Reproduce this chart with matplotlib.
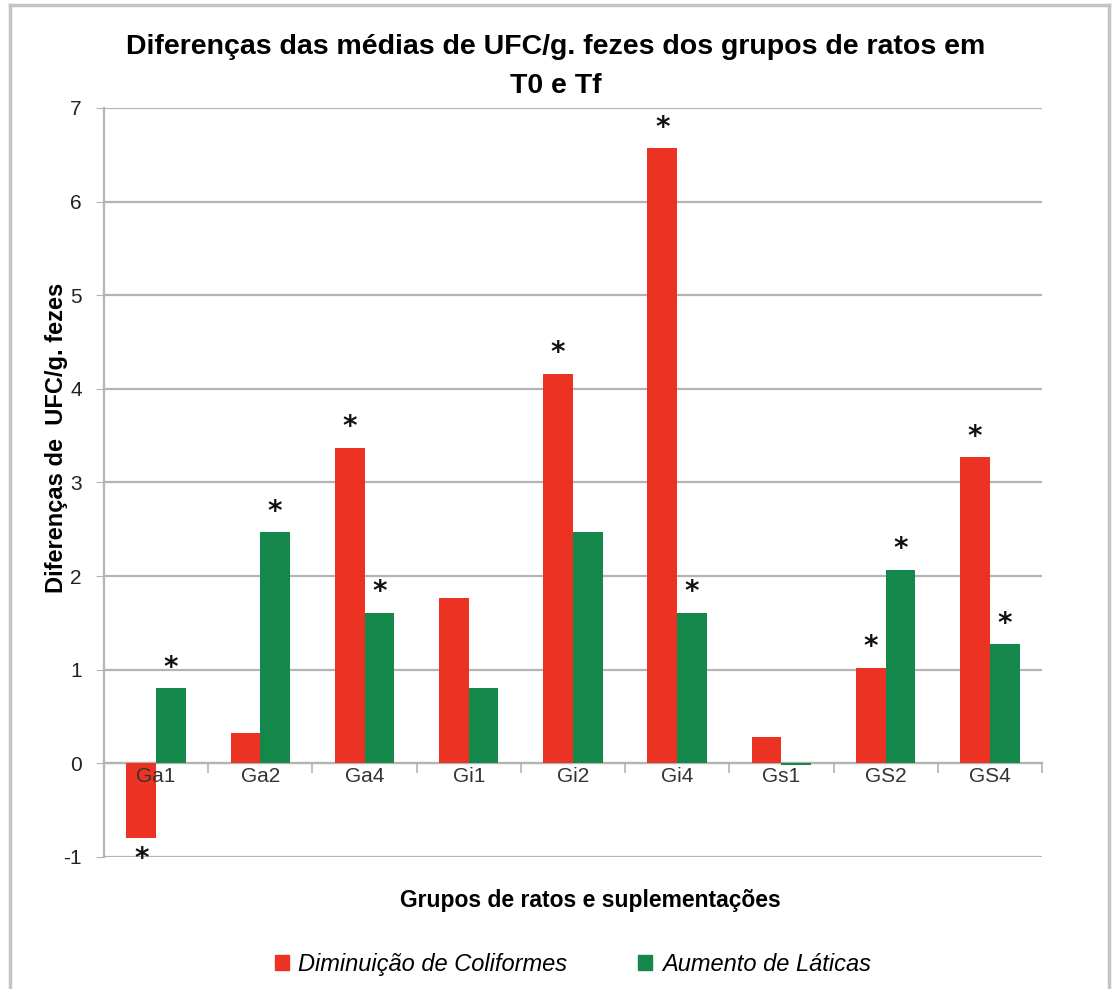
import numpy as np
import matplotlib.pyplot as plt
from matplotlib.lines import Line2D
from matplotlib.patches import Patch

# data
groups = ["Ga1", "Ga2", "Ga4", "Gi1", "Gi2", "Gi4", "Gs1", "GS2", "GS4"]
coliformes = [-0.80, 0.32, 3.37, 1.77, 4.16, 6.57, 0.28, 1.02, 3.27]
laticas = [0.80, 2.47, 1.61, 0.80, 2.47, 1.61, -0.02, 2.07, 1.27]
sig_coli = [True, False, True, False, True, True, False, True, True]
sig_lat = [True, True, True, False, False, True, False, True, True]

red = "#ec3323"
green = "#14884a"
grid_col = "#b4b4b4"
plt.rcParams['font.family'] = ['Liberation Sans', 'DejaVu Sans']
plt.rcParams['axes.unicode_minus'] = False

fig = plt.figure(figsize=(11.12, 9.89), dpi=100)
ax = fig.add_axes([0.0935, 0.1335, 0.8435, 0.7573])

x = np.arange(len(groups))
w = 0.285
ax.bar(x - w / 2, coliformes, w, color=red, zorder=3)
ax.bar(x + w / 2, laticas, w, color=green, zorder=3)

# significance stars
for xi, v, s in zip(x - w / 2, coliformes, sig_coli):
    if s:
        off = 0.07 if v >= 0 else -0.07
        ax.text(xi, v + off, "*", ha="center", va="bottom" if v >= 0 else "top",
                fontsize=20, fontweight="bold", color="#111111",
                fontfamily="DejaVu Sans")
for xi, v, s in zip(x + w / 2, laticas, sig_lat):
    if s:
        ax.text(xi, v + 0.07, "*", ha="center", va="bottom",
                fontsize=20, fontweight="bold", color="#111111",
                fontfamily="DejaVu Sans")

# group labels drawn over the bars, just under the zero line
for xi, g in zip(x, groups):
    ax.text(xi, -0.04, g, ha="center", va="top", fontsize=15,
            color="#333333", zorder=5)

ax.set_ylim(-1, 7)
ax.set_xlim(-0.5, len(groups) - 0.5)
ax.set_yticks(range(-1, 8))
ax.yaxis.grid(True, color=grid_col, lw=1.6, zorder=0)
ax.tick_params(axis="y", length=6, color=grid_col, labelsize=15,
               labelcolor="#222222", pad=10)

# x axis sits at zero with ticks between groups
ax.spines["bottom"].set_position(("data", 0))
ax.spines["bottom"].set_color(grid_col)
ax.spines["bottom"].set_linewidth(1.6)
ax.spines["left"].set_color(grid_col)
ax.spines["left"].set_linewidth(1.6)
ax.spines["top"].set_visible(False)
ax.spines["right"].set_visible(False)
ax.set_xticks(np.arange(-0.5, len(groups)), labels=[])
ax.tick_params(axis="x", which="major", length=7, color=grid_col, width=1.2)

fig.text(0.5, 0.952, "Diferenças das médias de UFC/g. fezes dos grupos de ratos em",
         ha="center", va="center", fontsize=20.5, fontweight="bold")
fig.text(0.5, 0.913, "T0 e Tf", ha="center", va="center", fontsize=20.5,
         fontweight="bold")
fig.text(0.051, 0.557, "Diferenças de  UFC/g. fezes", rotation=90, ha="center",
         va="center", fontsize=17, fontweight="bold")
fig.text(0.531, 0.089, "Grupos de ratos e suplementações", ha="center",
         va="center", fontsize=16.5, fontweight="bold")

handles = [Patch(color=red), Patch(color=green)]
fig.legend(handles, ["Diminuição de Coliformes", "Aumento de Láticas"],
           loc="center", bbox_to_anchor=(0.515, 0.025), ncol=2, frameon=False,
           handlelength=0.6, handleheight=0.6, handletextpad=0.4,
           columnspacing=3.0, prop={"size": 17, "style": "italic"})

# outer frame
fc = "#c4c4c4"
fig.add_artist(Line2D([0.009, 0.009], [0, 0.995], color=fc, lw=2.5))
fig.add_artist(Line2D([0.997, 0.997], [0, 0.995], color=fc, lw=2.5))
fig.add_artist(Line2D([0.009, 0.997], [0.995, 0.995], color=fc, lw=2.5))

fig.savefig("out.png", dpi=100, facecolor="white")
